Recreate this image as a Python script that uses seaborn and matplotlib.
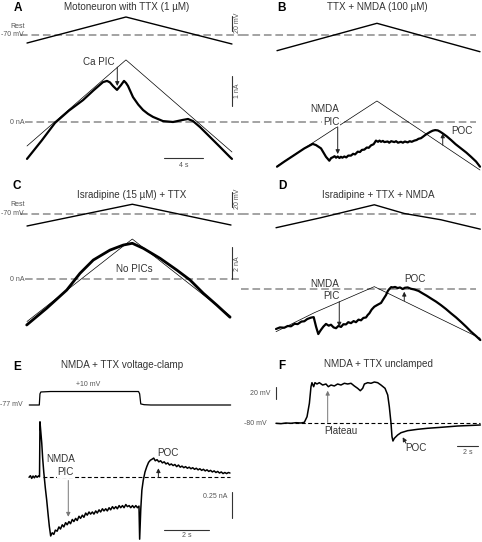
import pandas as pd
import seaborn as sns
import matplotlib.pyplot as plt

sns.set_theme(style="white")
plt.rcParams["font.family"] = ["Liberation Sans", "DejaVu Sans"]

W, H = 482, 542

# ---- data: time in s, current in nA, voltage in mV ----
ramp_t_a = [0, 10.14, 21.0]
ramp_v_a = [-80.7, -46.0, -82.0]
lin_i_a = [-0.8, 2.07, -1.0]
current_a = [(0, -1.23), (1.5, -0.62), (2.87, -0.03), (4.3, 0.38), (5.74, 0.73), (6.8, 1.05),
             (7.79, 1.33), (8.2, 1.37), (8.5, 1.32), (8.81, 1.2), (9.22, 1.07), (9.63, 1.23),
             (9.94, 1.37), (10.15, 1.3), (10.35, 1.2), (10.86, 0.83), (11.4, 0.58), (11.89, 0.4),
             (12.4, 0.27), (12.91, 0.17), (13.93, 0.03), (14.96, 0.0), (15.98, 0.07), (16.5, 0.1),
             (17.01, 0.03), (17.73, -0.17), (18.75, -0.5), (19.77, -0.83), (20.8, -1.17), (21.0, -1.23)]

ramp_t_b = [0, 10.24, 20.8]
ramp_v_b = [-90.9, -54.4, -92.3]
lin_i_b = [-1.47, 0.70, -1.6]
current_b = [(0, -1.49), (0.75, -1.32), (1.78, -1.1), (2.8, -0.88), (3.66, -0.73), (4.0, -0.77),
             (4.51, -0.88), (5.02, -1.16), (5.36, -1.29), (5.55, -1.2), (5.7, -1.18), (5.9, -1.14),
             (6.05, -1.19), (6.22, -1.15), (6.4, -1.2), (6.55, -1.16), (6.7, -1.19), (6.9, -1.15),
             (7.1, -1.18), (7.3, -1.12), (7.58, -1.12), (7.8, -1.06), (8.0, -1.08), (8.27, -0.99),
             (8.5, -1.0), (8.7, -0.93), (8.95, -0.92), (9.2, -0.85), (9.4, -0.86), (9.63, -0.78),
             (9.9, -0.74), (10.14, -0.62), (10.35, -0.66), (10.5, -0.62), (10.66, -0.66), (10.85, -0.63),
             (11.0, -0.67), (11.34, -0.65), (11.5, -0.69), (11.7, -0.64), (12.02, -0.67), (12.2, -0.64),
             (12.4, -0.69), (12.7, -0.66), (12.9, -0.69), (13.1, -0.65), (13.39, -0.68), (13.6, -0.64),
             (13.8, -0.66), (14.07, -0.62), (14.3, -0.6), (14.5, -0.56), (14.75, -0.54), (15.0, -0.48),
             (15.2, -0.43), (15.44, -0.38), (15.7, -0.33), (15.95, -0.29), (16.2, -0.27), (16.47, -0.28),
             (16.7, -0.32), (16.98, -0.38), (17.4, -0.48), (17.83, -0.6), (18.3, -0.74), (18.85, -0.88),
             (19.4, -1.02), (19.88, -1.16), (20.4, -1.32), (20.8, -1.49)]

ramp_t_c = [0, 10.79, 20.9]
ramp_v_c = [-86.0, -57.0, -84.7]
lin_i_c = [-2.69, 2.53, -2.38]
current_c = [(-0.03, -2.91), (2.02, -1.85), (4.07, -0.70), (5.43, 0.36), (6.79, 1.2), (8.5, 1.83),
             (9.87, 2.15), (10.79, 2.26), (11.92, 1.94), (13.63, 1.31), (15.34, 0.57), (16.7, -0.06),
             (18.06, -0.9), (19.44, -1.65), (20.8, -2.42)]

ramp_t_d = [-0.1, 4.51, 9.97, 13.04, 16.8, 20.83]
ramp_v_d = [-87.9, -74.5, -57.3, -68.9, -77.3, -89.8]
lin_t_d = [-0.1, 3.82, 9.97, 20.83]
lin_i_d = [-2.72, -1.52, 0.13, -3.14]
current_d = [(-0.1, -2.55), (0.3, -2.45), (0.75, -2.47), (1.1, -2.36), (1.43, -2.38), (1.8, -2.22),
             (2.12, -2.24), (2.5, -2.08), (2.8, -2.06), (3.1, -1.92), (3.48, -1.83), (3.76, -1.8),
             (4.0, -2.4), (4.23, -2.87), (4.4, -2.7), (4.51, -2.6), (4.75, -2.4), (5.02, -2.23),
             (5.3, -2.34), (5.53, -2.28), (5.8, -2.45), (6.05, -2.5), (6.3, -2.35), (6.56, -2.42),
             (6.8, -2.25), (7.07, -2.26), (7.3, -2.12), (7.58, -2.18), (7.85, -2.05), (8.09, -2.12),
             (8.35, -1.96), (8.61, -2.0), (8.85, -1.85), (9.12, -1.82), (9.3, -1.66), (9.46, -1.56),
             (9.7, -1.32), (9.97, -1.14), (10.3, -1.02), (10.66, -0.9), (10.9, -0.66), (11.17, -0.4),
             (11.35, -0.15), (11.51, -0.02), (11.7, 0.1), (11.86, 0.08), (12.1, 0.11), (12.37, 0.04),
             (12.6, 0.08), (12.88, -0.02), (13.1, 0.06), (13.39, 0.08), (13.7, 0.0), (14.07, -0.05),
             (14.5, -0.14), (14.93, -0.3), (15.35, -0.45), (15.78, -0.62), (16.3, -0.82), (16.8, -1.04),
             (17.3, -1.28), (17.83, -1.56), (18.35, -1.82), (18.85, -2.1), (19.4, -2.42), (19.88, -2.72),
             (20.4, -3.0), (20.83, -3.25)]

# E: voltage-clamp step and current
step_e = [(-0.45, -77), (0.0, -77), (0.03, -5), (0.07, 7), (0.5, 10), (4.45, 10), (4.5, -5),
          (4.55, -70), (4.7, -75), (5.0, -77), (8.58, -77)]
current_e = [(-0.46, 0.0), (-0.4, 0.015), (-0.34, -0.01), (-0.28, 0.012), (-0.22, -0.005), (-0.16, 0.015),
             (-0.1, 0.0), (-0.04, 0.012), (0.01, 0.005), (0.03, 0.52), (0.07, 0.42), (0.11, 0.32),
             (0.15, 0.18), (0.2, 0.05), (0.27, -0.1), (0.33, -0.21), (0.4, -0.36), (0.45, -0.46),
             (0.51, -0.55), (0.58, -0.52), (0.65, -0.535), (0.72, -0.495), (0.8, -0.505), (0.88, -0.465),
             (0.95, -0.485), (1.03, -0.445), (1.1, -0.465), (1.18, -0.425), (1.25, -0.445), (1.33, -0.415),
             (1.4, -0.435), (1.48, -0.395), (1.55, -0.415), (1.63, -0.385), (1.7, -0.405), (1.78, -0.365),
             (1.85, -0.385), (1.93, -0.355), (2.0, -0.375), (2.08, -0.335), (2.15, -0.355), (2.23, -0.325),
             (2.3, -0.345), (2.38, -0.325), (2.45, -0.345), (2.53, -0.315), (2.6, -0.335), (2.68, -0.305),
             (2.75, -0.325), (2.83, -0.295), (2.9, -0.315), (2.98, -0.295), (3.05, -0.315), (3.13, -0.285),
             (3.2, -0.305), (3.28, -0.275), (3.35, -0.295), (3.43, -0.275), (3.5, -0.295), (3.58, -0.265),
             (3.65, -0.285), (3.73, -0.265), (3.8, -0.285), (3.88, -0.255), (3.95, -0.275), (4.03, -0.265),
             (4.1, -0.285), (4.18, -0.265), (4.25, -0.285), (4.33, -0.265), (4.4, -0.285), (4.47, -0.27),
             (4.5, -0.58), (4.55, -0.3), (4.6, -0.12), (4.66, -0.03), (4.74, 0.05), (4.82, 0.1),
             (4.9, 0.14), (4.98, 0.16), (5.06, 0.17), (5.13, 0.18), (5.2, 0.155), (5.28, 0.165),
             (5.36, 0.145), (5.44, 0.155), (5.52, 0.135), (5.6, 0.145), (5.68, 0.125), (5.76, 0.135),
             (5.84, 0.115), (5.92, 0.125), (6.0, 0.11), (6.08, 0.12), (6.16, 0.1), (6.24, 0.115),
             (6.32, 0.095), (6.4, 0.105), (6.48, 0.09), (6.56, 0.1), (6.64, 0.085), (6.72, 0.095),
             (6.8, 0.08), (6.88, 0.09), (6.96, 0.075), (7.04, 0.085), (7.12, 0.07), (7.2, 0.08),
             (7.28, 0.065), (7.36, 0.075), (7.44, 0.06), (7.52, 0.07), (7.6, 0.055), (7.68, 0.065),
             (7.76, 0.05), (7.84, 0.06), (7.92, 0.045), (8.0, 0.055), (8.08, 0.04), (8.16, 0.05),
             (8.24, 0.035), (8.32, 0.045), (8.4, 0.035), (8.48, 0.045), (8.55, 0.04)]

# F: unclamped membrane potential
voltage_f = [(0, -80), (0.47, -80.6), (0.93, -79.5), (1.4, -80), (1.87, -79), (2.34, -79.5),
             (2.65, -78.3), (2.9, -69), (3.12, -46.7), (3.27, -19), (3.36, -12.3), (3.52, -19),
             (3.64, -12.3), (3.83, -14.5), (4.05, -12.3), (4.36, -16.2), (4.67, -14.5), (4.89, -19),
             (5.14, -16.2), (5.45, -17.8), (5.76, -14.5), (6.07, -16.2), (6.39, -13.3), (6.7, -14.5),
             (7.01, -13.3), (7.32, -17.8), (7.63, -21.7), (7.88, -25.7), (8.1, -21.7), (8.26, -14.5),
             (8.57, -12.3), (8.88, -13.3), (9.19, -11.2), (9.5, -12.3), (9.81, -16.2), (10.19, -21.7),
             (10.44, -32.8), (10.59, -52.3), (10.75, -80), (10.84, -102.3), (10.93, -109.5),
             (11.06, -105), (11.37, -99.5), (11.68, -95.7), (12.3, -92.3), (13.24, -90),
             (14.17, -88.3), (15.42, -86.7), (16.98, -84.5), (18.53, -83.3), (19.1, -82.8)]

fig = plt.figure(figsize=(W / 100, H / 100), dpi=100)
axes_limits = []


def panel_axes(box, x0, xs, yref, yval, ys):
    # box in pixels (left, top, right, bottom); x0 = pixel of t=0, xs = px per s,
    # yref = pixel of value yval, ys = px per unit
    l, t, r, b = box
    ax = fig.add_axes([l / W, 1 - b / H, (r - l) / W, (b - t) / H])
    axes_limits.append((ax, ((l - x0) / xs, (r - x0) / xs),
                        (yval + (yref - b) / ys, yval + (yref - t) / ys)))
    ax.set_axis_off()
    ax.patch.set_alpha(0)
    return ax


def trace(ax, t, y, lw, color="black"):
    df = pd.DataFrame({"t": t, "y": y})
    sns.lineplot(data=df, x="t", y="y", ax=ax, color=color, lw=lw,
                 sort=False, estimator=None, legend=False)


def pairs(ax, pts, lw, color="black"):
    trace(ax, [p[0] for p in pts], [p[1] for p in pts], lw, color)


def dashed(ax, y, t0, t1, color="#8a8a8a", lw=1.1, dash=(5, 2.5)):
    ax.plot([t0, t1], [y, y], color=color, lw=lw, ls=(0, dash), clip_on=False, zorder=1)


def vbar(ax, t, y0, y1):
    ax.plot([t, t], [y0, y1], color="#333333", lw=0.8, clip_on=False)


def arrow(ax, t, tail, tip, color="#222222", t_tail=None):
    ax.annotate("", xy=(t, tip), xytext=(t if t_tail is None else t_tail, tail),
                arrowprops=dict(arrowstyle="-|>", color=color, lw=0.7,
                                mutation_scale=6, shrinkA=0, shrinkB=0))


def ftext(x, y, s, size=7.1, **kw):
    kw.setdefault("color", "#333333")
    fig.text(x / W, 1 - y / H, s, fontsize=size, ha=kw.pop("ha", "center"),
             va=kw.pop("va", "center"), **kw)


small = 5
mid = 7.1
grey = "#555555"

# ---------------- A ----------------
axA_v = panel_axes((20, 10, 241, 55), 27, 9.76, 35, -70, 0.75)
axA_i = panel_axes((20, 55, 241, 172), 27, 9.76, 122, 0, 30)
dashed(axA_v, -70, -0.72, 21.9)
trace(axA_v, ramp_t_a, ramp_v_a, 1.0)
vbar(axA_v, 21.03, -64.3, -44.3)
axA_v.text(21.55, -54.3, "20 mV", rotation=90, fontsize=small, color=grey, ha="center", va="center")
axA_v.text(-0.97, -58, "Rest", fontsize=small, color=grey, ha="center", va="center")
axA_v.text(-2.68, -70, "-70 mV", fontsize=small, color=grey, ha="left", va="center")

dashed(axA_i, 0, -0.2, 21.9)
trace(axA_i, ramp_t_a, lin_i_a, 0.5)
pairs(axA_i, current_a, 1.6)
vbar(axA_i, 21.03, 0.53, 1.53)
axA_i.text(21.55, 1.03, "1 nA", rotation=90, fontsize=small, color=grey, ha="center", va="center")
axA_i.text(-0.25, 0, "0 nA", fontsize=small, color=grey, ha="right", va="center")
axA_i.plot([14.07, 18.07], [-1.21, -1.21], color="#333333", lw=0.8)
axA_i.text(16.07, -1.45, "4 s", fontsize=small, color=grey, ha="center", va="center")
axA_i.text(7.38, 2.0, "Ca PIC", fontsize=mid, color="#333333", ha="center", va="center")
arrow(axA_i, 9.25, 1.83, 1.2)

# ---------------- B ----------------
axB_v = panel_axes((241, 10, 482, 55), 277, 9.76, 35, -70, 0.75)
axB_i = panel_axes((241, 55, 482, 172), 277, 9.76, 122, 0, 30)
dashed(axB_v, -70, -3.69, 20.4)
trace(axB_v, ramp_t_b, ramp_v_b, 1.0)
dashed(axB_i, 0, -3.69, 20.4)
trace(axB_i, ramp_t_b, lin_i_b, 0.5)
pairs(axB_i, current_b, 1.6)
axB_i.text(4.92, 0.43, "NMDA", fontsize=mid, color="#333333", ha="center", va="center")
axB_i.text(5.53, 0.01, "PIC", fontsize=mid, color="#333333", ha="center", va="center",
           bbox=dict(fc="white", ec="none", pad=0.3))
arrow(axB_i, 6.22, -0.16, -1.07)
axB_i.text(18.95, -0.3, "POC", fontsize=mid, color="#333333", ha="center", va="center")
arrow(axB_i, 16.98, -0.77, -0.38)

# ---------------- C ----------------
axC_v = panel_axes((20, 185, 241, 232), 27, 9.76, 214, -70, 0.75)
axC_i = panel_axes((20, 232, 241, 340), 27, 9.76, 279, 0, 15.8)
dashed(axC_v, -70, -0.72, 21.9)
trace(axC_v, ramp_t_c, ramp_v_c, 1.0)
vbar(axC_v, 21.03, -60.3, -40.3)
axC_v.text(21.55, -50.3, "20 mV", rotation=90, fontsize=small, color=grey, ha="center", va="center")
axC_v.text(-0.97, -58, "Rest", fontsize=small, color=grey, ha="center", va="center")
axC_v.text(-2.68, -70, "-70 mV", fontsize=small, color=grey, ha="left", va="center")
dashed(axC_i, 0, -0.2, 21.9)
trace(axC_i, ramp_t_c, lin_i_c, 0.5)
pairs(axC_i, current_c, 2.0)
vbar(axC_i, 21.03, 0.0, 2.0)
axC_i.text(21.55, 1.0, "2 nA", rotation=90, fontsize=small, color=grey, ha="center", va="center")
axC_i.text(-0.25, 0, "0 nA", fontsize=small, color=grey, ha="right", va="center")
axC_i.text(10.96, 0.61, "No PICs", fontsize=mid, color="#333333", ha="center", va="center")

# ---------------- D ----------------
axD_v = panel_axes((241, 185, 482, 232), 277, 9.76, 214.3, -70, 0.75)
axD_i = panel_axes((241, 232, 482, 345), 277, 9.76, 288.7, 0, 15.8)
dashed(axD_v, -70, -3.69, 20.4)
trace(axD_v, ramp_t_d, ramp_v_d, 1.0)
dashed(axD_i, 0, -3.69, 20.4)
trace(axD_i, lin_t_d, lin_i_d, 0.5)
pairs(axD_i, current_d, 1.6)
axD_i.text(4.92, 0.3, "NMDA", fontsize=mid, color="#333333", ha="center", va="center")
axD_i.text(5.53, -0.44, "PIC", fontsize=mid, color="#333333", ha="center", va="center")
arrow(axD_i, 6.38, -0.82, -2.4)
axD_i.text(14.11, 0.61, "POC", fontsize=mid, color="#333333", ha="center", va="center")
arrow(axD_i, 13.04, -0.76, -0.19)

# ---------------- E ----------------
axE_v = panel_axes((25, 378, 241, 412), 39.3, 22.3, 405, -77, 0.155)
axE_i = panel_axes((25, 412, 241, 542), 39.3, 22.3, 477.3, 0, 106.7)
pairs(axE_v, step_e, 0.9)
axE_v.text(2.2, -77 + 20 / 0.155, "+10 mV", fontsize=small, color=grey, ha="center", va="center")
axE_v.text(-0.73, -77, "-77 mV", fontsize=small, color=grey, ha="right", va="center")
dashed(axE_i, 0, 0.17, 8.55, color="black", lw=0.8, dash=(3.5, 2.2))
pairs(axE_i, current_e, 1.1)
axE_i.text(0.94, 0.17, "NMDA", fontsize=mid, color="#333333", ha="center", va="center")
axE_i.text(1.18, 0.047, "PIC", fontsize=mid, color="#333333", ha="center", va="center",
           bbox=dict(fc="white", ec="none", pad=0.3))
arrow(axE_i, 1.3, -0.03, -0.37, color="#777777")
axE_i.text(5.78, 0.23, "POC", fontsize=mid, color="#333333", ha="center", va="center")
arrow(axE_i, 5.34, 0.0, 0.085)
vbar(axE_i, 8.65, -0.384, -0.134)
axE_i.text(7.88, -0.18, "0.25 nA", fontsize=small, color=grey, ha="center", va="center")
axE_i.plot([5.6, 7.6], [-0.494, -0.494], color="#333333", lw=0.8)
axE_i.text(6.6, -0.545, "2 s", fontsize=small, color=grey, ha="center", va="center")

# ---------------- F ----------------
axF = panel_axes((241, 372, 482, 460), 276, 10.7, 423.3, -80, 0.6)
dashed(axF, -80, 0.0, 19.1, color="black", lw=0.8, dash=(3.5, 2.2))
pairs(axF, voltage_f, 1.1)
vbar(axF, 0.0, -40, -20)
axF.text(-0.5, -30, "20 mV", fontsize=small, color=grey, ha="right", va="center")
axF.text(-0.9, -80, "-80 mV", fontsize=small, color=grey, ha="right", va="center")
axF.text(4.55, -93, "Plateau", fontsize=mid, color="#333333", ha="left", va="center")
arrow(axF, 4.83, -78.5, -25.7, color="#777777")
axF.text(13.08, -121.7, "POC", fontsize=mid, color="#333333", ha="center", va="center")
arrow(axF, 11.84, -113.3, -103.3, t_tail=12.15)
axF.plot([16.9, 18.9], [-117.8, -117.8], color="#333333", lw=0.8, clip_on=False)
axF.text(17.9, -129, "2 s", fontsize=small, color=grey, ha="center", va="center")

for ax, xl, yl in axes_limits:
    ax.set_xlim(*xl)
    ax.set_ylim(*yl)

# ---------------- panel letters and titles ----------------
for letter, x, y in [("A", 18, 8), ("B", 282, 8), ("C", 17, 186), ("D", 282, 186),
                     ("E", 17, 367), ("F", 282, 366)]:
    ftext(x, y, letter, size=8.5, weight="bold", color="black")

ftext(127, 7, "Motoneuron with TTX (1 µM)")
ftext(377, 7, "TTX + NMDA (100 µM)")
ftext(132, 195, "Isradipine (15 µM) + TTX")
ftext(378, 195, "Isradipine + TTX + NMDA")
ftext(122, 365, "NMDA + TTX voltage-clamp")
ftext(379, 364, "NMDA + TTX unclamped")

fig.savefig("out.png", dpi=100, facecolor="white")
